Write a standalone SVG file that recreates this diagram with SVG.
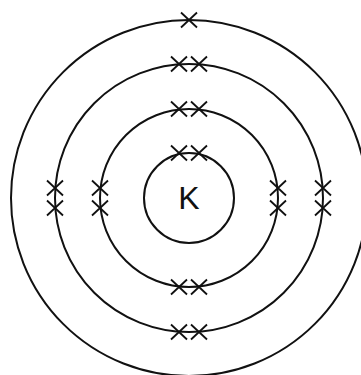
<svg xmlns="http://www.w3.org/2000/svg" width="361" height="375" viewBox="0 0 361 375">
<defs>
<style>
.ring{fill:none;stroke:#111;stroke-width:2}
.e{fill:none;stroke:#111;stroke-width:1.8}
</style>
<path id="x" class="e" d="M-8,-7.5L8,7.5M-8,7.5L8,-7.5"/>
</defs>
<rect width="361" height="375" fill="#fff"/>
<g id="nucleus">
<circle class="ring" cx="189" cy="198" r="45"/>
<text x="189" y="209" font-family="Liberation Sans, Arial, sans-serif" font-size="32" text-anchor="middle" fill="#111">K</text>
</g>
<g id="shell1">
<use href="#x" x="179" y="153"/><use href="#x" x="199" y="153"/>
</g>
<g id="shell2">
<circle class="ring" cx="189" cy="198" r="89"/>
<use href="#x" x="179" y="109"/><use href="#x" x="199" y="109"/>
<use href="#x" x="179" y="287"/><use href="#x" x="199" y="287"/>
<use href="#x" x="100" y="188"/><use href="#x" x="100" y="208"/>
<use href="#x" x="278" y="188"/><use href="#x" x="278" y="208"/>
</g>
<g id="shell3">
<circle class="ring" cx="189" cy="198" r="134"/>
<use href="#x" x="179" y="64"/><use href="#x" x="199" y="64"/>
<use href="#x" x="179" y="332"/><use href="#x" x="199" y="332"/>
<use href="#x" x="55" y="188"/><use href="#x" x="55" y="208"/>
<use href="#x" x="323" y="188"/><use href="#x" x="323" y="208"/>
</g>
<g id="shell4">
<circle class="ring" cx="189" cy="198" r="178"/>
<use href="#x" x="189" y="20"/>
</g>
</svg>
